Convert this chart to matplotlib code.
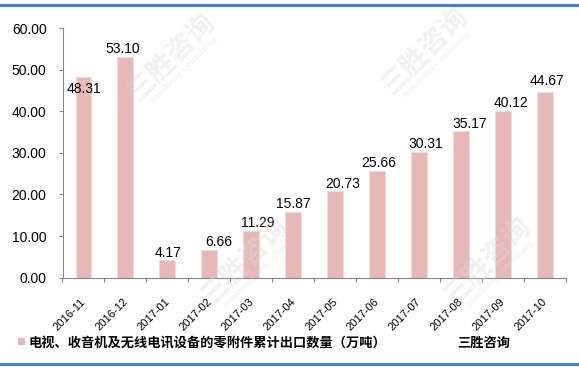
import matplotlib
matplotlib.use("Agg")
import matplotlib.pyplot as plt
import matplotlib.transforms as mtransforms
from matplotlib.lines import Line2D
from matplotlib.patches import Rectangle
import numpy as np

categories = ["2016-11", "2016-12", "2017-01", "2017-02", "2017-03", "2017-04",
              "2017-05", "2017-06", "2017-07", "2017-08", "2017-09", "2017-10"]
values = [48.31, 53.10, 4.17, 6.66, 11.29, 15.87, 20.73, 25.66, 30.31, 35.17, 40.12, 44.67]
value_labels = ["48.31", "53.10", "4.17", "6.66", "11.29", "15.87", "20.73", "25.66",
                "30.31", "35.17", "40.12", "44.67"]
y_ticks = [0, 10, 20, 30, 40, 50, 60]
y_tick_labels = ["0.00", "10.00", "20.00", "30.00", "40.00", "50.00", "60.00"]
series_name = "电视、收音机及无线电讯设备的零附件累计出口数量（万吨）"
source_name = "三胜咨询"

# label nudges in pixels (dx, dy) to mimic manual placement
label_dx = [0, -3, 1, 9, 6, 0, 7, 1, 7, 9, 8, 2]
label_dy = [-20, 0, 0, 0, 0, 0, 0, 0, 0, 0, 0, 3]

W, H = 579, 371
fig = plt.figure(figsize=(W / 100, H / 100), dpi=100)
fig.patch.set_facecolor("white")

def fx(px):
    return px / W

def fy(py):
    return (H - py) / H

ax_left, ax_right, ax_top, ax_bottom = 62.5, 566, 28, 277.7
ax = fig.add_axes([fx(ax_left), fy(ax_bottom), fx(ax_right - ax_left), (ax_bottom - ax_top) / H])

bar_color = "#E6B9B8"
x = np.arange(len(categories))

# watermarks (faint)
wm_color = "#D9D9D9"
for (wx, wy) in [(172, 58), (425, 52), (245, 262), (488, 262)]:
    fig.text(fx(wx), fy(wy), "三胜咨询", fontsize=20, color=wm_color, alpha=0.35,
             rotation=45, ha="center", va="center", family=["Noto Sans CJK SC"],
             fontweight="bold", zorder=0)
    fig.text(fx(wx + 12), fy(wy + 12), "Sansheng Consulting", fontsize=6, color=wm_color,
             alpha=0.45, rotation=45, ha="center", va="center", family=["DejaVu Serif"], zorder=0)

ax.patch.set_alpha(0)
ax.bar(x, values, width=0.38, color=bar_color, edgecolor="#F2DCDB", linewidth=0.8, zorder=2)

ax.set_xlim(-0.5, len(categories) - 0.5)
ax.set_ylim(0, 60)

for sp in ["top", "right"]:
    ax.spines[sp].set_visible(False)
for sp in ["left", "bottom"]:
    ax.spines[sp].set_color("#868686")
    ax.spines[sp].set_linewidth(0.8)

ax.set_yticks(y_ticks)
ax.set_yticklabels(y_tick_labels, family=["Liberation Sans"], fontsize=10, color="black")
ax.tick_params(axis="y", direction="out", length=3, width=0.8, color="#868686", pad=8.5)

ax.set_xticks(x)
ax.set_xticklabels(categories, rotation=45, ha="right", va="top",
                   family=["Liberation Sans"], fontsize=8)
ax.tick_params(axis="x", which="major", length=0, pad=13.5)
ax.set_xticks(np.arange(-0.5, len(categories), 1.0), minor=True)
ax.tick_params(axis="x", which="minor", direction="out", length=3, width=0.8, color="#868686")
offset = mtransforms.ScaledTranslation(4 / 100, 0, fig.dpi_scale_trans)
for lbl in ax.get_xticklabels():
    lbl.set_transform(lbl.get_transform() + offset)

for i, (v, t) in enumerate(zip(values, value_labels)):
    ax.annotate(t, xy=(x[i], v), xytext=(label_dx[i] * 0.72, label_dy[i] * 0.72 + 0.5),
                textcoords="offset points", ha="center", va="bottom",
                family=["Liberation Sans"], fontsize=10, color="black", zorder=3)

# legend
fig.add_artist(Rectangle((fx(18), fy(345)), fx(7), 7 / H, facecolor=bar_color,
                         edgecolor="none", transform=fig.transFigure))
fig.text(fx(29), fy(343), series_name, family=["Noto Sans CJK SC", "DejaVu Sans"],
         fontsize=9.5, fontweight="bold", ha="left", va="center", color="black")
fig.text(fx(457), fy(343), source_name, family=["Noto Sans CJK SC", "DejaVu Sans"],
         fontsize=9.5, fontweight="bold", ha="left", va="center", color="black")

# blue frame lines
fig.add_artist(Line2D([0, 1], [fy(4.5), fy(4.5)], color="#4F81BD", linewidth=2.3,
                      transform=fig.transFigure))
fig.add_artist(Line2D([0, 1], [fy(364), fy(364)], color="#4F81BD", linewidth=2.3,
                      transform=fig.transFigure))

fig.savefig("out.png", dpi=100, facecolor="white")
